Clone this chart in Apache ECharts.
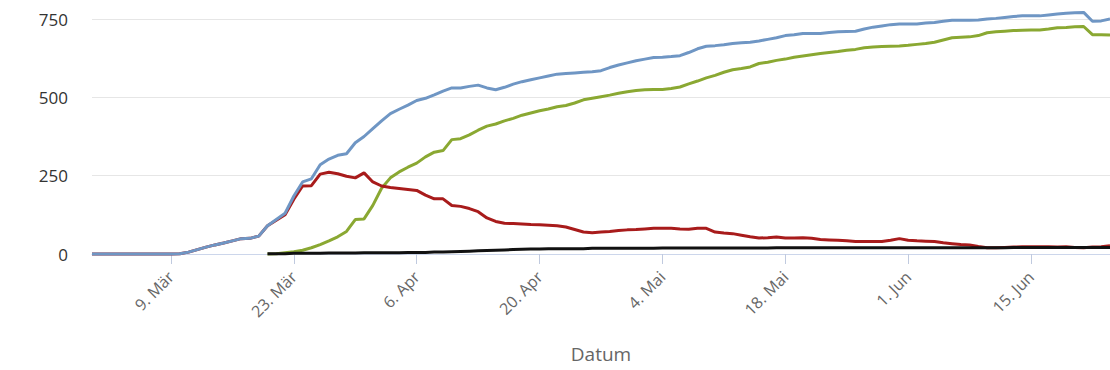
<!DOCTYPE html>
<html>
<head>
<meta charset="utf-8">
<script src="https://cdn.jsdelivr.net/npm/echarts@6/dist/echarts.min.js"></script>
<style>
html,body{margin:0;padding:0;background:#fff;}
#chart{width:1110px;height:370px;}
</style>
</head>
<body>
<div id="chart"></div>
<script>
// Dates: 29 Feb 2020 .. 24 Jun 2020 (one category per day)
var startDate = '2020-02-29';
var dayCount = 117;
var monthNames = ['Jan','Feb','Mär','Apr','Mai','Jun','Jul','Aug','Sep','Okt','Nov','Dez'];
var tickDates = ['2020-03-09','2020-03-23','2020-04-06','2020-04-20','2020-05-04','2020-05-18','2020-06-01','2020-06-15'];
var yTicks = [0, 250, 500, 750];

// Total cases (blue)
var totalCases = [0,0,0,0,0,0,0,0,0,0,
  1,6,14,22,29,35,42,49,50,57,
  90,110,130,185,230,240,285,303,315,320,
  355,375,400,425,448,462,475,490,497,508,
  520,530,530,535,539,530,524,532,542,550,
  556,562,568,574,576,578,580,582,585,595,
  603,610,617,622,627,628,630,633,643,655,
  663,665,668,672,674,676,680,685,690,697,
  700,704,704,704,707,709,710,711,718,724,
  728,732,734,734,734,737,739,743,746,746,
  746,747,750,752,755,758,760,760,760,763,
  766,768,770,771,743,744,750];

// Recovered (green)
var recovered = [null,null,null,null,null,null,null,null,null,null,
  null,null,null,null,null,null,null,null,null,null,
  0,1,4,7,12,20,30,42,55,72,
  110,112,155,210,243,262,277,290,310,325,
  330,365,368,380,395,408,415,425,433,443,
  450,457,463,470,474,482,492,497,502,507,
  513,518,522,524,525,525,528,533,543,552,
  562,570,580,588,592,597,608,612,618,622,
  628,632,636,640,643,646,650,653,658,661,
  662,663,664,666,669,672,676,683,690,692,
  693,697,706,709,711,713,714,715,715,718,
  722,723,725,726,700,700,699];

// Active cases (red)
var active = [0,0,0,0,0,0,0,0,0,0,
  1,6,14,22,29,35,42,49,50,57,
  90,108,125,175,217,218,255,261,256,248,
  243,259,230,217,212,209,206,203,188,176,
  176,155,152,145,135,115,104,98,97,96,
  94,93,92,90,86,78,70,68,70,72,
  75,77,78,80,82,82,82,80,79,82,
  82,70,67,65,60,55,51,52,54,51,
  51,52,50,46,45,44,42,40,40,40,
  40,44,49,44,42,41,40,36,33,30,
  29,24,20,20,21,22,23,23,23,23,
  22,23,21,20,22,23,26];

// Deaths (black)
var deaths = [null,null,null,null,null,null,null,null,null,null,
  null,null,null,null,null,null,null,null,null,null,
  1,1,1,2,2,2,2,3,3,3,
  3,4,4,4,4,4,5,5,5,6,
  6,7,8,9,10,11,12,13,14,15,
  16,16,17,17,17,17,17,18,18,18,
  18,18,18,18,18,19,19,19,19,19,
  19,19,19,19,19,19,19,19,20,20,
  20,20,20,20,20,20,20,20,20,20,
  20,20,20,20,20,20,20,20,20,20,
  20,20,20,20,20,21,21,21,21,21,
  21,21,21,21,21,21,21];

var categories = [];
(function(){
  var d = new Date(startDate + 'T12:00:00Z');
  for (var i = 0; i < dayCount; i++) {
    var t = new Date(d.getTime() + i * 86400000);
    categories.push(t.toISOString().slice(0, 10));
  }
})();

function labelOf(iso) {
  var p = iso.split('-');
  return parseInt(p[2], 10) + '. ' + monthNames[parseInt(p[1], 10) - 1];
}
function isTick(index) { return tickDates.indexOf(categories[index]) >= 0; }

var chart = echarts.init(document.getElementById('chart'), null, {renderer: 'svg'});
var font = '"Open Sans", "DejaVu Sans", sans-serif';
var lineBase = {type: 'line', showSymbol: false, symbol: 'none', smooth: false, clip: false};

chart.setOption({
  animation: false,
  grid: {left: 92, right: 0, top: 19, bottom: 116, outerBoundsMode: 'none'},
  xAxis: {
    type: 'category',
    data: categories,
    boundaryGap: false,
    name: 'Datum',
    nameLocation: 'middle',
    nameGap: 90,
    nameTextStyle: {color: '#666666', fontSize: 19, fontFamily: font},
    axisLine: {show: true, lineStyle: {color: '#ccd6eb', width: 1}},
    axisTick: {show: true, interval: function(i){ return isTick(i); }, length: 10, lineStyle: {color: '#c0cadf', width: 1}},
    axisLabel: {
      show: true,
      interval: function(i){ return isTick(i); },
      rotate: 45,
      margin: 20,
      color: '#666666',
      fontSize: 16,
      fontFamily: font,
      formatter: function(v){ return labelOf(v); }
    }
  },
  yAxis: {
    type: 'value',
    min: 0,
    max: 750,
    interval: 250,
    axisLine: {show: false},
    axisTick: {show: false},
    axisLabel: {color: '#333333', fontSize: 17, fontFamily: font, margin: 24},
    splitLine: {lineStyle: {color: '#e6e6e6', width: 1}}
  },
  series: [
    Object.assign({}, lineBase, {name: 'Genesen', data: recovered, lineStyle: {color: '#8aa832', width: 3}, itemStyle: {color: '#8aa832'}}),
    Object.assign({}, lineBase, {name: 'Aktiv', data: active, lineStyle: {color: '#a81b1b', width: 3}, itemStyle: {color: '#a81b1b'}}),
    Object.assign({}, lineBase, {name: 'Gesamt', data: totalCases, lineStyle: {color: '#6f96c4', width: 3}, itemStyle: {color: '#6f96c4'}}),
    Object.assign({}, lineBase, {name: 'Verstorben', data: deaths, lineStyle: {color: '#111111', width: 3}, itemStyle: {color: '#111111'}})
  ]
});
</script>
</body>
</html>
